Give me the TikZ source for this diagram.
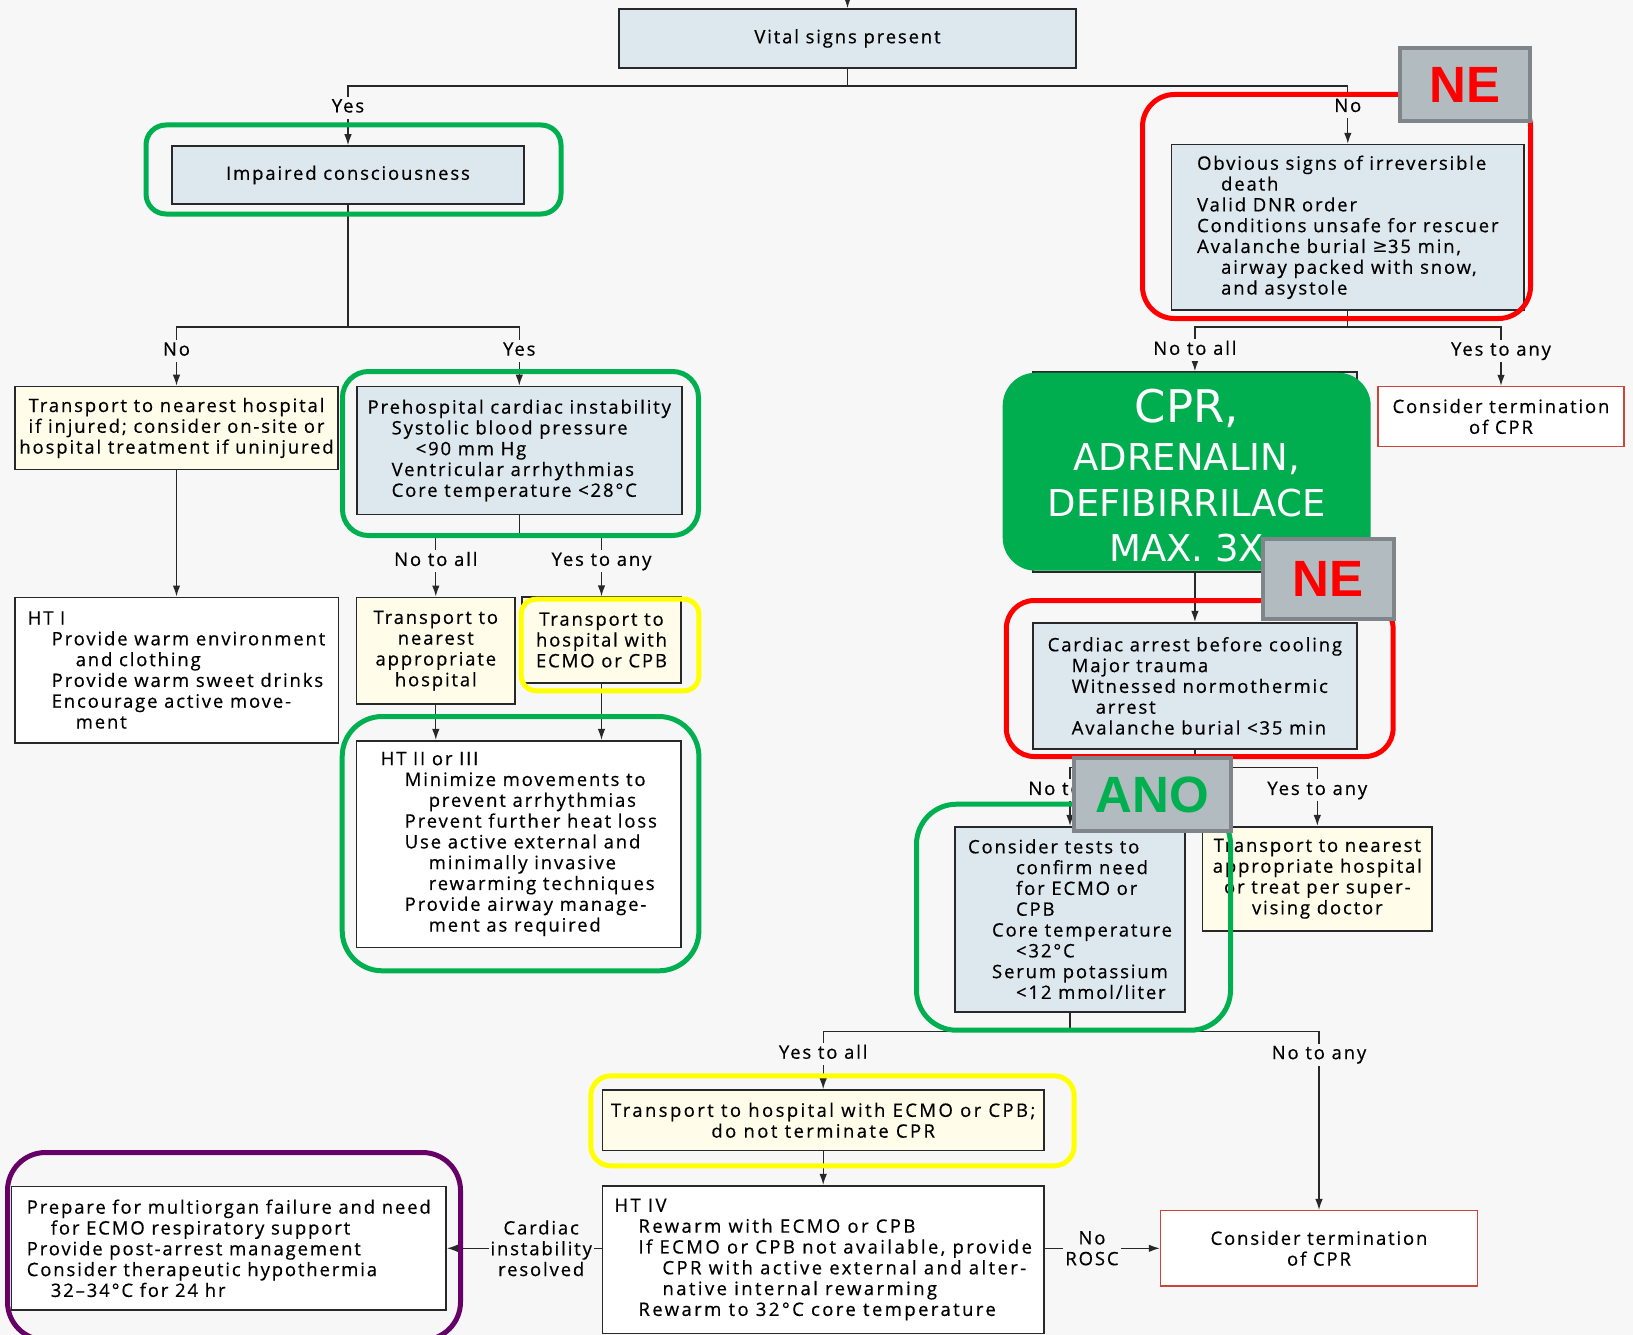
\documentclass[tikz,border=0pt]{standalone}
\usepackage{fontspec}
\setmainfont{Open Sans}[LetterSpace=10, FakeBold=0.5]
\newfontfamily\cprfont{DejaVu Sans}
\newfontfamily\stampfont{Liberation Sans}
\usetikzlibrary{arrows.meta}

\definecolor{bgc}{RGB}{247,247,247}
\definecolor{edge}{RGB}{40,40,40}
\definecolor{boxblue}{RGB}{221,231,238}
\definecolor{cream}{RGB}{255,253,234}
\definecolor{hlgreen}{RGB}{0,176,80}
\definecolor{hlred}{RGB}{255,0,0}
\definecolor{hlyellow}{RGB}{255,255,0}
\definecolor{hlpurple}{RGB}{102,0,102}
\definecolor{cprgreen}{RGB}{0,173,79}
\definecolor{termred}{RGB}{204,68,58}
\definecolor{stampgray}{RGB}{177,187,192}
\definecolor{stampedge}{RGB}{128,133,137}

\newcommand{\ind}{\hspace*{24pt}}
\newcommand{\iind}{\hspace*{48pt}}
\newcommand{\bodyfont}{\fontsize{18.5}{20.8}\selectfont}
\newcommand{\wider}{\addfontfeature{LetterSpace=13}\fontsize{18.5}{20.8}\selectfont}

\tikzset{
  box/.style={draw=edge, line width=1.6pt, fill=boxblue, inner sep=0pt, align=left},
  creambox/.style={box, fill=cream, align=center},
  whitebox/.style={box, fill=white},
  termbox/.style={draw=termred, line width=1.4pt, fill=white, inner sep=0pt, align=center},
  cprbox/.style={fill=cprgreen, rounded corners=33pt, text=white, align=center, inner sep=0pt,
    font=\cprfont\fontsize{37}{45.5}\selectfont},
  stamp/.style={draw=stampedge, line width=4pt, fill=stampgray, inner sep=0pt,
    font=\stampfont\bfseries\fontsize{51}{51}\selectfont},
  lbl/.style={fill=bgc, inner sep=2.5pt, text height=13pt, text depth=4pt, yshift=-3pt},
  mlbl/.style={fill=bgc, inner sep=2pt, align=center},
  hlg/.style={draw=hlgreen, line width=5pt},
  hlr/.style={draw=hlred, line width=5pt},
  hly/.style={draw=hlyellow, line width=5pt},
  hlp/.style={draw=hlpurple, line width=5pt},
}

\begin{document}
\begin{tikzpicture}[x=1pt, y=-1pt, font=\bodyfont,
    >={Latex[length=11pt,width=7.5pt]}, line width=1.3pt, draw=edge]
        \useasboundingbox (0,0) rectangle (1633,1335);
        \fill[bgc] (0,0) rectangle (1633,1335);

        % Nodes, left part
        \node[box, align=center, minimum width=457pt, minimum height=59pt] (vital) at (847.5,38.5) {Vital signs present};
        \node[box, align=center, minimum width=352pt, minimum height=58pt] (imp) at (348,175) {Impaired consciousness};
        \node[creambox, minimum width=323pt, minimum height=83pt] (trnear) at (176.5,428) {Transport to nearest hospital\\if injured; consider on-site or\\hospital treatment if uninjured};
        \node[box, minimum width=325pt, minimum height=128pt] (prehosp) at (519.3,450.4) {Prehospital cardiac instability\\\ind Systolic blood pressure\\\iind <90 mm Hg\\\ind Ventricular arrhythmias\\\ind Core temperature <28°C};
        \node[whitebox, minimum width=323.6pt, minimum height=145.4pt] (ht1) at (176.5,670) {HT I\\\ind Provide warm environment\\\iind and clothing\\\ind Provide warm sweet drinks\\\ind Encourage active move-\\\iind ment};
        \node[creambox, minimum width=158.4pt, minimum height=106.7pt] (trapp) at (435.8,650.7) {Transport to\\nearest\\appropriate\\hospital};
        \node[creambox, minimum width=159pt, minimum height=85.7pt] (trecmo) at (601.5,640) {Transport to\\hospital with\\ECMO or CPB};
        \node[whitebox, minimum width=324.4pt, minimum height=206.6pt] (ht23) at (518.8,844) {HT II or III\\\ind Minimize movements to\\\iind prevent arrhythmias\\\ind Prevent further heat loss\\\ind Use active external and\\\iind minimally invasive\\\iind rewarming techniques\\\ind Provide airway manage-\\\iind ment as required};

        % Nodes, right part
        \node[box, minimum width=352.5pt, minimum height=165.4pt] (obv) at (1347.8,227.3) {Obvious signs of irreversible\\\ind death\\Valid DNR order\\Conditions unsafe for rescuer\\Avalanche burial {\cprfont ≥}35 min,\\\ind airway packed with snow,\\\ind and asystole};
        \node[termbox, minimum width=246pt, minimum height=60pt] (termA) at (1501,416.5) {Consider termination\\of CPR};
        \node[box, minimum width=323.7pt, minimum height=200pt] (cprold) at (1194.9,472) {};
        \node[cprbox, minimum width=368pt, minimum height=198pt] (cpr) at (1186.7,471.7) {\rule{0pt}{41pt}{\fontsize{45}{45}\selectfont CPR,}\\[3pt]ADRENALIN,\\DEFIBIRRILACE\\MAX. 3X};
        \node[box, minimum width=323.7pt, minimum height=126.3pt] (cardiac) at (1194.9,685.9) {Cardiac arrest before cooling\\\ind Major trauma\\\ind Witnessed normothermic\\\iind arrest\\\ind Avalanche burial <35 min};
        \node[box, minimum width=230pt, minimum height=185pt] (tests) at (1070,919.2) {Consider tests to\\\iind confirm need\\\iind for ECMO or\\\iind CPB\\\ind Core temperature\\\iind <32°C\\\ind Serum potassium\\\iind <12 mmol/liter};
        \node[creambox, minimum width=229.5pt, minimum height=104pt] (trsup) at (1317.3,878.7) {Transport to nearest\\appropriate hospital\\or treat per super-\\vising doctor};

        % Nodes, bottom part
        \node[creambox, minimum width=441.7pt, minimum height=60.7pt, font=\wider] (trecmo2) at (823.2,1120.3) {Transport to hospital with ECMO or CPB;\\do not terminate CPR};
        \node[whitebox, minimum width=441.7pt, minimum height=147.6pt, font=\wider] (ht4) at (823.2,1259.5) {HT IV\\\ind Rewarm with ECMO or CPB\\\ind If ECMO or CPB not available, provide\\\iind CPR with active external and alter-\\\iind native internal rewarming\\\ind Rewarm to 32°C core temperature};
        \node[whitebox, minimum width=434.5pt, minimum height=123.3pt] (prep) at (228.8,1248.3) {Prepare for multiorgan failure and need\\\ind for ECMO respiratory support\\Provide post-arrest management\\Consider therapeutic hypothermia\\\ind 32--34°C for 24 hr};
        \node[termbox, minimum width=317pt, minimum height=75.3pt] (termB) at (1319,1248.3) {Consider termination\\of CPR};

        % Branch points
        \coordinate (top) at (847.5,0);
        \coordinate (j1) at (847.5,86);
        \coordinate (j2) at (348,327);
        \coordinate (j3) at (519.3,537);
        \coordinate (j4) at (1347.8,327);
        \coordinate (j5) at (1194.9,767.7);
        \coordinate (j6) at (1070,1031.7);

        % Edges
        \draw[->] (top) -- (vital);
        \draw (vital) -- (j1);
        \draw[->] (j1) -| node[lbl, pos=0.66] {Yes} (imp);
        \draw[->] (j1) -| node[lbl, pos=0.66] {No} (obv);
        \draw (imp) -- (j2);
        \draw[->] (j2) -| node[lbl, pos=0.68] {No} (trnear);
        \draw[->] (j2) -| node[lbl, pos=0.68] {Yes} (prehosp);
        \draw[->] (trnear) -- (ht1);
        \draw (prehosp) -- (j3);
        \draw[->] (j3) -| node[lbl, pos=0.68] {No to all} (trapp);
        \draw[->] (j3) -| node[lbl, pos=0.68] {Yes to any} (trecmo);
        \draw[->] (trapp.south) -- (trapp.south |- ht23.north);
        \draw[->] (trecmo.south) -- (trecmo.south |- ht23.north);
        \draw (obv) -- (j4);
        \draw[->] (j4) -| node[lbl, pos=0.73] {No to all} (cprold);
        \draw[->] (j4) -| node[lbl, pos=0.68] {Yes to any} (termA);
        \draw[->] (cprold) -- (cardiac);
        \draw (cardiac) -- (j5);
        \draw[->] (j5) -| node[lbl, pos=0.67] {No to all} (tests);
        \draw[->] (j5) -| node[lbl, pos=0.67] {Yes to any} (trsup);
        \draw (tests) -- (j6);
        \draw[->] (j6) -| node[lbl, pos=0.67] {Yes to all} (trecmo2);
        \draw[->] (j6) -| node[lbl, pos=0.556] {No to any} (termB);
        \draw[->] (trecmo2) -- (ht4);
        \draw[->] (ht4.west |- prep) -- node[mlbl, pos=0.39] {Cardiac\\instability\\resolved} (prep);
        \draw[->] (ht4.east |- termB) -- node[mlbl, pos=0.41] {No\\ROSC} (termB);

        % Highlight frames
        \draw[hlg, rounded corners=20pt] (146,125) rectangle (561,214);
        \draw[hlr, rounded corners=32pt] (1142.5,94.5) rectangle (1530.5,318.5);
        \draw[hlg, rounded corners=26pt] (342.5,371.5) rectangle (698.5,535.5);
        \draw[hly, rounded corners=15pt] (521.2,599.2) rectangle (698.9,690.8);
        \draw[hlg, rounded corners=40pt] (342.2,716.5) rectangle (698.9,970.8);
        \draw[hlr, rounded corners=28pt] (1006.3,600.5) rectangle (1393.1,756.5);
        \draw[hlg, rounded corners=40pt] (916.5,804.2) rectangle (1230.5,1030.2);
        \draw[hly, rounded corners=20pt] (590.8,1075.8) rectangle (1074.2,1165.8);
        \draw[hlp, rounded corners=38pt] (7.5,1152.5) rectangle (460.5,1340);

        % Stamps
        \node[stamp, text=hlred, minimum width=130pt, minimum height=73pt] (ne1) at (1465,84.7) {NE};
        \node[stamp, text=hlred, minimum width=131pt, minimum height=80pt] (ne2) at (1328.3,578.9) {NE};
        \node[stamp, text=hlgreen, minimum width=157pt, minimum height=73pt] (ano) at (1152.5,794.5) {ANO};
\end{tikzpicture}
\end{document}
